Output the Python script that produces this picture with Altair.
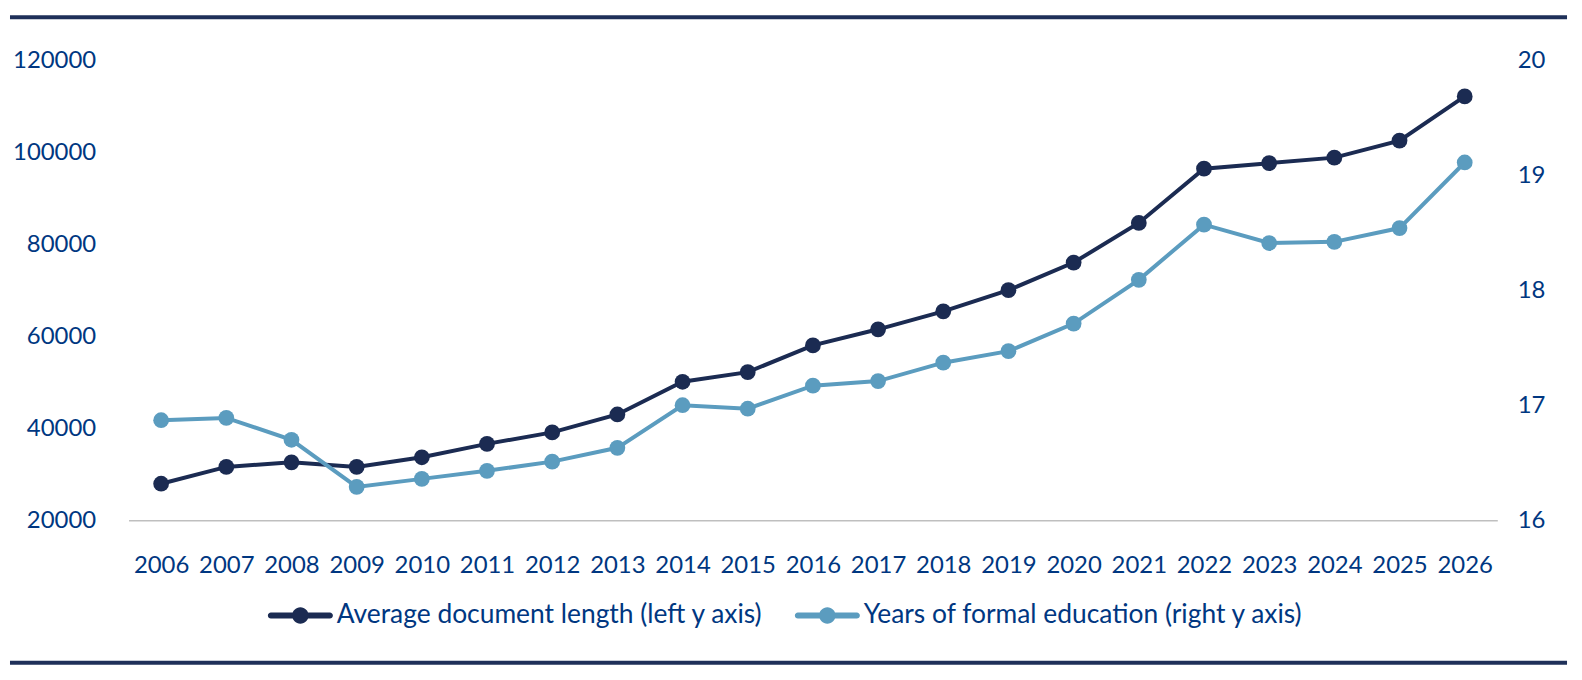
import altair as alt
import pandas as pd

years = [str(y) for y in range(2006, 2027)]
doc_length = [27950, 31600, 32600, 31600, 33700, 36600, 39100, 43000, 50100, 52200,
              58000, 61500, 65400, 70000, 76000, 84600, 96400, 97600, 98800, 102500, 112100]
education = [16.87, 16.89, 16.70, 16.29, 16.36, 16.43, 16.51, 16.63, 17.00, 16.97,
             17.17, 17.21, 17.37, 17.47, 17.71, 18.09, 18.57, 18.41, 18.42, 18.54, 19.11]
series_names = ["Average document length (left y axis)", "Years of formal education (right y axis)"]
series_colors = ["#1B2B52", "#5B9CBF"]

FONT = "Lato"
TEXT = "#003781"
W, H = 1374, 462

df1 = pd.DataFrame({"year": years, "value": doc_length, "series": series_names[0]})
df2 = pd.DataFrame({"year": years, "value": education, "series": series_names[1]})

color = alt.Color(
    "series:N",
    scale=alt.Scale(domain=series_names, range=series_colors),
    legend=alt.Legend(
        title=None,
        orient="none",
        legendX=142,
        legendY=527,
        direction="horizontal",
        symbolType="M-0.97,-0.1L0.97,-0.1A0.1,0.1 0 0,1 0.97,0.1L-0.97,0.1A0.1,0.1 0 0,1 -0.97,-0.1Z M-0.27,0A0.27,0.27 0 1,1 0.27,0A0.27,0.27 0 1,1 -0.27,0Z",
        symbolSize=3721,
        symbolStrokeWidth=0,
        symbolOpacity=1,
        labelFont=FONT,
        labelFontSize=26.5,
        labelColor=TEXT,
        labelOffset=6,
        columnPadding=30,
        padding=0,
        labelLimit=700,
    ),
)

xenc = alt.X(
    "year:O",
    scale=alt.Scale(type="point", padding=0.5),
    axis=alt.Axis(
        title=None, labelAngle=0, ticks=False, domain=True, domainColor="#BFBFBF",
        domainWidth=1.5, labelFont=FONT, labelFontSize=24, labelColor=TEXT,
        labelPadding=33, grid=False,
    ),
)

yleft = alt.Y(
    "value:Q",
    scale=alt.Scale(domain=[20000, 120000], nice=False, zero=False),
    axis=alt.Axis(
        title=None, values=[20000, 40000, 60000, 80000, 100000, 120000], format="d",
        ticks=False, domain=False, grid=False, labelFont=FONT, labelFontSize=24,
        labelColor=TEXT, labelPadding=33, orient="left",
    ),
)

yright = alt.Y(
    "value:Q",
    scale=alt.Scale(domain=[16, 20], nice=False, zero=False),
    axis=alt.Axis(
        title=None, values=[16, 17, 18, 19, 20], format="d",
        ticks=False, domain=False, grid=False, labelFont=FONT, labelFontSize=24,
        labelColor=TEXT, labelPadding=20, orient="right",
    ),
)

left_base = alt.Chart(df1).encode(x=xenc, y=yleft, color=color)
left = alt.layer(
    left_base.mark_line(strokeWidth=4),
    left_base.mark_point(filled=True, size=250, opacity=1),
)

right_base = alt.Chart(df2).encode(x=xenc, y=yright, color=color)
right = alt.layer(
    right_base.mark_line(strokeWidth=4),
    right_base.mark_point(filled=True, size=250, opacity=1),
)

rule_df = pd.DataFrame({"k": [0]})
top_rule = alt.Chart(rule_df).mark_rule(color="#1F3059", strokeWidth=4).encode(
    x=alt.value(-119), x2=alt.value(W + 70), y=alt.value(-43)
)
bottom_rule = alt.Chart(rule_df).mark_rule(color="#1F3059", strokeWidth=4).encode(
    x=alt.value(-119), x2=alt.value(W + 70), y=alt.value(H + 143)
)

chart = (
    alt.layer(left, right, top_rule, bottom_rule)
    .resolve_scale(y="independent")
    .properties(width=W, height=H, padding={"left": 0, "top": 6, "right": 5, "bottom": 5},
                background="white")
    .configure_view(strokeWidth=0, stroke="transparent")
)

chart.save("out.html", embed_options={"renderer": "svg", "actions": False})
